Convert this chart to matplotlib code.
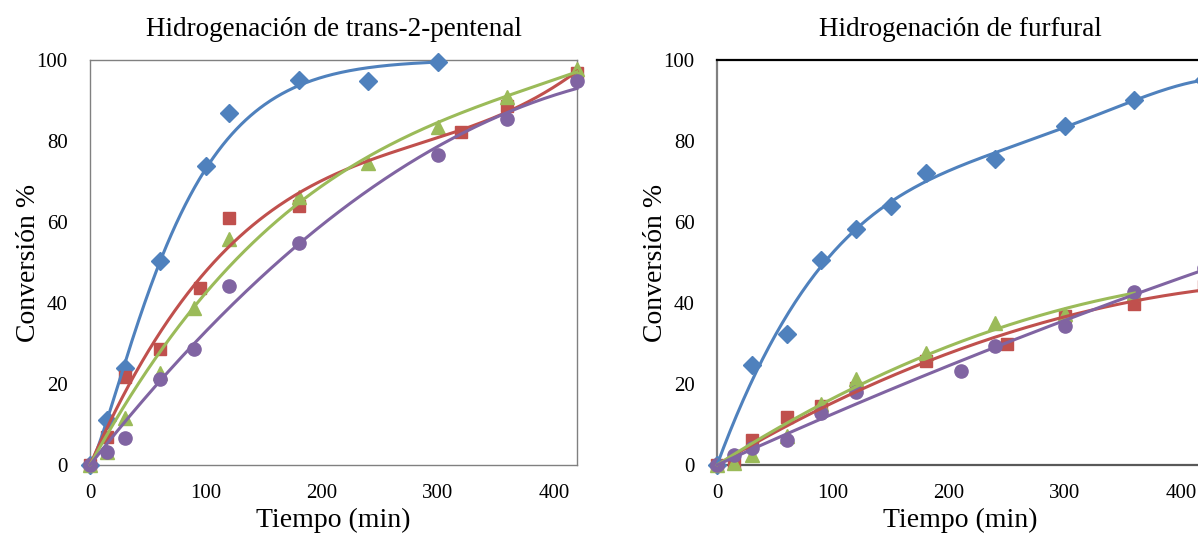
import numpy as np
import matplotlib.pyplot as plt

plt.rcParams['font.family'] = ['Liberation Serif', 'DejaVu Serif']

# Hidrogenacion de trans-2-pentenal
pent_blue_t = [0, 15, 30, 60, 100, 120, 180, 240, 300]
pent_blue_v = [0, 11.1, 23.9, 50.4, 73.8, 87.0, 95.0, 94.9, 99.6]
pent_red_t = [0, 15, 30, 60, 95, 120, 180, 320, 360, 420]
pent_red_v = [0, 7.0, 21.8, 28.6, 43.6, 61.1, 64.0, 82.1, 88.7, 96.7]
pent_green_t = [0, 15, 30, 60, 90, 120, 180, 240, 300, 360, 420]
pent_green_v = [0, 3.3, 11.5, 22.6, 38.7, 55.7, 66.1, 74.6, 83.4, 90.9, 97.7]
pent_purple_t = [0, 15, 30, 60, 90, 120, 180, 300, 360, 420]
pent_purple_v = [0, 3.1, 6.7, 21.2, 28.6, 44.3, 54.7, 76.5, 85.4, 94.9]

# Hidrogenacion de furfural
furf_blue_t = [0, 30, 60, 90, 120, 150, 180, 240, 300, 360, 420]
furf_blue_v = [0, 24.7, 32.3, 50.6, 58.3, 64.0, 72.2, 75.6, 83.8, 90.1, 95.0]
furf_red_t = [0, 15, 30, 60, 90, 120, 180, 250, 300, 360, 420]
furf_red_v = [0, 0.5, 6.2, 11.8, 14.5, 19.0, 25.8, 30.0, 36.8, 39.8, 44.3]
furf_green_t = [0, 15, 30, 60, 90, 120, 180, 240, 300, 360]
furf_green_v = [0, 0.5, 2.5, 7.2, 15.0, 21.2, 27.6, 35.1, 37.3, 42.4]
furf_purple_t = [0, 15, 30, 60, 90, 120, 210, 240, 300, 360, 420]
furf_purple_v = [0, 2.5, 4.1, 6.2, 12.9, 18.1, 23.3, 29.4, 34.4, 42.6, 48.7]

blue = '#4F81BD'
red = '#C0504D'
green = '#9BBB59'
purple = '#8064A2'


def trend(t, v, deg):
    t = np.asarray(t, float)
    v = np.asarray(v, float)
    tt = np.linspace(0, t.max(), 300)
    if deg == 'w':
        # Weibull-type saturation fit: v = 100*(1 - exp(-(t/tau)^n))
        m = (t > 0) & (v < 100)
        n, b = np.polyfit(np.log(t[m]), np.log(-np.log(1 - v[m] / 100)), 1)
        return tt, 100 * (1 - np.exp(-np.exp(b) * tt ** n))
    # polynomial trendline with zero intercept
    A = np.column_stack([t ** k for k in range(1, deg + 1)])
    coef = np.linalg.lstsq(A, v, rcond=None)[0]
    return tt, sum(c * tt ** (k + 1) for k, c in enumerate(coef))


def draw(ax, series, title):
    for t, v, color, marker, ms, deg in series:
        ax.plot(t, v, linestyle='none', marker=marker, color=color,
                markersize=ms, clip_on=False, zorder=3)
    for t, v, color, marker, ms, deg in series:
        tt, vv = trend(t, v, deg)
        ax.plot(tt, vv, color=color, linewidth=2.2, zorder=4, clip_on=False)
    ax.set_xlim(0, 420)
    ax.set_ylim(0, 100)
    ax.set_xticks([0, 100, 200, 300, 400])
    ax.set_yticks([0, 20, 40, 60, 80, 100])
    ax.tick_params(length=0, labelsize=15)
    ax.tick_params(axis='y', pad=16)
    ax.tick_params(axis='x', pad=14)
    ax.set_xlabel('Tiempo (min)', fontsize=20, labelpad=3)
    ax.set_ylabel('Conversión %', fontsize=20, labelpad=-3)
    ax.set_title(title, fontsize=19.5, pad=17)


fig = plt.figure(figsize=(11.98, 5.33), dpi=100)
ax1 = fig.add_axes([90 / 1198, 1 - 465 / 533, 487 / 1198, 405 / 533])
ax2 = fig.add_axes([717 / 1198, 1 - 465 / 533, 487 / 1198, 405 / 533])

draw(ax1, [
    (pent_blue_t, pent_blue_v, blue, 'D', 9.5, 'w'),
    (pent_red_t, pent_red_v, red, 's', 8.5, 3),
    (pent_green_t, pent_green_v, green, '^', 9.5, 3),
    (pent_purple_t, pent_purple_v, purple, 'o', 9.5, 2),
], 'Hidrogenación de trans-2-pentenal')

draw(ax2, [
    (furf_blue_t, furf_blue_v, blue, 'D', 9.5, 5),
    (furf_red_t, furf_red_v, red, 's', 8.5, 2),
    (furf_green_t, furf_green_v, green, '^', 9.5, 2),
    (furf_purple_t, furf_purple_v, purple, 'o', 9.5, 2),
], 'Hidrogenación de furfural')

for s in ax1.spines.values():
    s.set_color('#808080')
    s.set_linewidth(1.0)
for name, s in ax2.spines.items():
    s.set_color('#595959')
    s.set_linewidth(1.6)
ax2.spines['top'].set_color('black')
ax2.spines['left'].set_color('#808080')

fig.savefig('out.png', dpi=100)
